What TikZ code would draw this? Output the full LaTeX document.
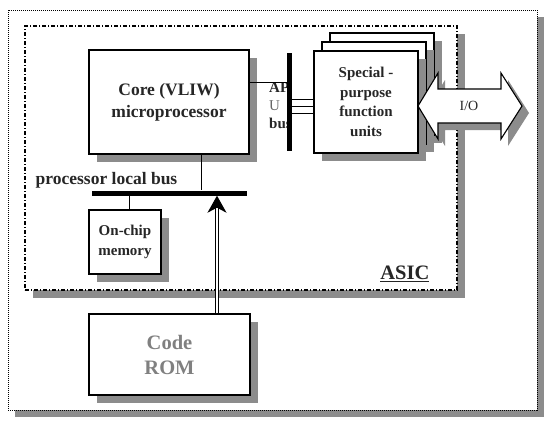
\documentclass[tikz,border=0pt]{standalone}
\usepackage{fontspec}
\setmainfont{Liberation Serif}
\usetikzlibrary{shadows,arrows.meta}

\begin{document}
\begin{tikzpicture}
[x=1pt, y=-1pt,
chip shadow/.style={drop shadow={shadow xshift=8pt, shadow yshift=-8pt, fill=black!45, opacity=1}},
chip box/.style={rectangle, draw, line width=1.1pt, fill=white, chip shadow, inner sep=0pt},
chip frame/.style={rectangle, draw, line width=0.8pt, dash pattern=on 1pt off 1pt, fill=white, inner sep=0pt, drop shadow={shadow xshift=7pt, shadow yshift=-7pt, fill=black!45, opacity=1}},
chip asic/.style={rectangle, draw, line width=1.1pt, dash pattern=on 4pt off 2pt on 1pt off 2pt, fill=white, inner sep=0pt, chip shadow},
chip bus/.style={rectangle, fill=black, inner sep=0pt},
chip text/.style={font=\bfseries\fontsize{17.5}{22}\selectfont, align=center, text=black!85, inner sep=0pt},
chip smalltext/.style={font=\bfseries\fontsize{15}{19.5}\selectfont, align=center, text=black!85},
chip graytext/.style={font=\bfseries\fontsize{20.5}{25}\selectfont, align=center, text=black!50},
chip wire/.style={line width=1pt},
chip feed/.style={double, double distance=2pt, line width=0.9pt, -{Stealth[length=17pt, width=19pt, inset=5pt]}}
]
\useasboundingbox (0,0) rectangle (548,426);

% frames
\node[chip frame, minimum width=529pt, minimum height=400pt] (board) at (272.5,210) {};
\node[chip asic, minimum width=432pt, minimum height=264pt] (asic) at (241,158) {};
\node[chip graytext, text=black!85, inner sep=0pt, anchor=south east] (asiclabel) at ([xshift=-28pt, yshift=9pt]asic.south east) {\underline{ASIC}};

% core
\node[chip box, chip text, minimum width=160pt, minimum height=104pt] (core) at (169,102) {Core (VLIW)\\microprocessor};

% special purpose units
\foreach \k in {2,1}
  \node[chip box, minimum width=104pt, minimum height=102pt] (spu\k) at (366+8*\k, 102-9*\k) {};
\node[chip box, chip smalltext, minimum width=104pt, minimum height=102pt] (spu) at (366,102) {Special -\\purpose\\function\\units};

% memories
\node[chip box, chip smalltext, minimum width=72pt, minimum height=64pt] (mem) at (125,242) {On-chip\\memory};
\node[chip box, chip graytext, minimum width=161pt, minimum height=81pt] (rom) at (169.5,354.5) {Code\\ROM};

% APU bus
\node[chip smalltext, font=\bfseries\fontsize{15}{18}\selectfont, align=left, inner sep=0pt, anchor=north west] (apulabel) at (269,82) {AP\\{\mdseries\color{black!60}U}\\bus};
\node[chip bus, minimum width=5pt, minimum height=98pt] (apubus) at (289.5,102) {};

% local bus
\node[chip text] (lbuslabel) at (106.5,180) {processor local bus};
\node[chip bus, minimum width=155pt, minimum height=5pt] (lbus) at (169.5,193) {};

% wires
\draw[chip wire] ([yshift=20pt]core.east) -- ([yshift=20pt]core.east -| apubus.west);
\foreach \d in {3,-4,-11}
  \draw[chip wire] ([yshift=\d pt]spu.west -| apubus.east) -- ([yshift=\d pt]spu.west);
\draw[chip wire] ([xshift=32pt]core.south) -- ([xshift=32pt]core.south |- lbus.north);
\draw[chip wire] ([xshift=4pt]mem.north) -- ([xshift=4pt]mem.north |- lbus.south);
\draw[chip feed] ([xshift=47.5pt]rom.north) -- ([xshift=47.5pt]rom.north |- lbus.south);

% I/O arrow
\draw[line width=1.1pt, fill=white, drop shadow={shadow xshift=7pt, shadow yshift=-7pt, fill=black!45, opacity=1}]
  (418,106) -- (438,73) -- (438,89) -- (501,89) -- (501,73) -- (522,106)
  -- (501,139) -- (501,123) -- (438,123) -- (438,139) -- cycle;
\node[font=\fontsize{14}{16}\selectfont, text=black!85] (io) at (469,106) {I/O};

\end{tikzpicture}
\end{document}
